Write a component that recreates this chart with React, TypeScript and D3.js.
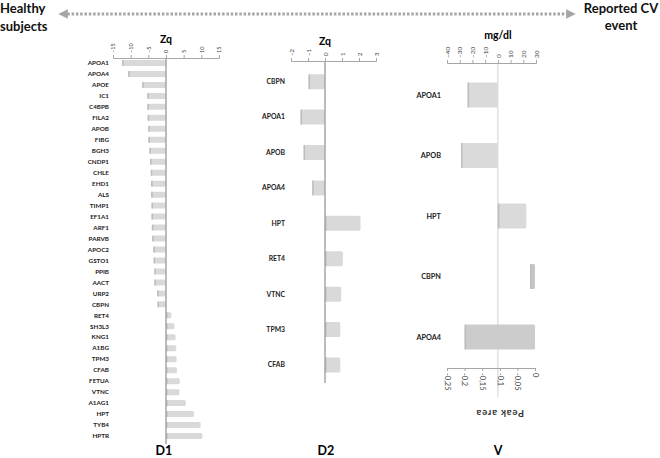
import React, { useEffect, useRef } from "react";
import * as d3 from "d3";

// D1 panel - Zq values per protein
const d1Proteins = [
  "APOA1", "APOA4", "APOE", "IC1", "C4BPB", "FILA2", "APOB", "FIBG", "BGH3",
  "CNDP1", "CHLE", "EHD1", "ALS", "TIMP1", "EF1A1", "ARF1", "PARVB", "APOC2",
  "GSTO1", "PPIB", "AACT", "URP2", "CBPN", "RET4", "SH3L3", "KNG1", "A1BG",
  "TPM3", "CFAB", "FETUA", "VTNC", "A1AG1", "HPT", "TYB4", "HPTR",
];
const d1Values = [
  -12.4, -10.7, -6.7, -5.3, -5.3, -5.2, -5.0, -5.0, -4.7,
  -4.5, -4.3, -4.2, -4.2, -4.1, -4.1, -4.0, -3.9, -3.6,
  -3.5, -3.3, -3.3, -2.5, -2.4, 1.5, 2.4, 2.7, 2.9,
  3.0, 3.1, 3.9, 3.8, 5.6, 7.9, 9.8, 10.3,
];
const d1Ticks = [-15, -10, -5, 0, 5, 10, 15];

// D2 panel
const d2Proteins = ["CBPN", "APOA1", "APOB", "APOA4", "HPT", "RET4", "VTNC", "TPM3", "CFAB"];
const d2Values = [-0.97, -1.44, -1.26, -0.75, 2.09, 1.05, 0.95, 0.9, 0.9];
const d2Ticks = [-2, -1, 0, 1, 2, 3];

// V panel - first three in mg/dl, last two in peak area
const vProteins = ["APOA1", "APOB", "HPT", "CBPN", "APOA4"];
const vValues = [-23.8, -29, 22.4, -0.014, -0.2];
const vUnits = ["mgdl", "mgdl", "mgdl", "peak", "peak"];
const vTopTicks = [-40, -30, -20, -10, 0, 10, 20, 30];
const vBottomTicks = [-0.25, -0.2, -0.15, -0.1, -0.05, 0];
const vBottomLabels = ["-0,25", "-0,2", "-0,15", "-0,1", "-0,05", "0"];

const font = "Lato, 'Open Sans', sans-serif";

const App = () => {
  const svgRef = useRef<SVGSVGElement>(null);

  useEffect(() => {
    const svg = d3.select(svgRef.current);
    svg.selectAll("*").remove();
    svg.style("font-family", font);

    // header arrow
    const defs = svg.append("defs");
    ["start", "end"].forEach((k) => {
      defs
        .append("marker")
        .attr("id", "arr-" + k)
        .attr("viewBox", "0 0 10 10")
        .attr("refX", 5)
        .attr("refY", 5)
        .attr("markerWidth", 3.2)
        .attr("markerHeight", 3.2)
        .attr("orient", k === "start" ? "auto-start-reverse" : "auto")
        .append("path")
        .attr("d", "M0,0L10,5L0,10Z")
        .attr("fill", "#a6a6a6");
    });
    svg
      .append("line")
      .attr("x1", 63)
      .attr("x2", 571)
      .attr("y1", 14)
      .attr("y2", 14)
      .attr("stroke", "#a6a6a6")
      .attr("stroke-width", 3)
      .attr("stroke-dasharray", "2.5,1.8")
      .attr("marker-start", "url(#arr-start)")
      .attr("marker-end", "url(#arr-end)");

    const head = svg.append("g").attr("font-weight", "bold").attr("font-size", 13).attr("fill", "#111");
    head.append("text").attr("x", 0).attr("y", 13).text("Healthy");
    head.append("text").attr("x", 0).attr("y", 31).text("subjects");
    head.append("text").attr("x", 621).attr("y", 13).attr("text-anchor", "middle").text("Reported CV");
    head.append("text").attr("x", 621).attr("y", 30).attr("text-anchor", "middle").text("event");

    const axisColor = "#a6a6a6";

    const styleAxis = (g: any, angle: number, size: number) => {
      g.select(".domain").attr("stroke", axisColor);
      g.selectAll(".tick line").attr("stroke", axisColor);
      g.selectAll(".tick text")
        .attr("fill", "#444")
        .attr("font-size", size)
        .attr("font-family", font)
        .attr("text-anchor", "start")
        .attr("x", 5)
        .attr("y", 0)
        .attr("dy", "0.35em")
        .attr("transform", `rotate(${angle})`);
    };

    const drawBars = (
      g: any,
      names: string[],
      values: number[],
      x: any,
      y: any,
      h: number,
      labelX: number,
      labelSize: number,
      fills?: string[]
    ) => {
      names.forEach((n, i) => {
        const v = values[i];
        const x0 = Math.min(x(0), x(v));
        const w = Math.abs(x(v) - x(0));
        const cy = y(n);
        g.append("rect")
          .attr("x", x0)
          .attr("y", cy - h / 2)
          .attr("width", w)
          .attr("height", h)
          .attr("rx", 1.5)
          .attr("fill", fills ? fills[i] : "#d9d9d9");
        g.append("rect")
          .attr("x", x0)
          .attr("y", cy - h / 2)
          .attr("width", Math.min(1.5, w))
          .attr("height", h)
          .attr("fill", "#bdbdbd");
        g.append("text")
          .attr("x", labelX)
          .attr("y", cy)
          .attr("dy", "0.35em")
          .attr("text-anchor", "end")
          .attr("font-size", labelSize)
          .attr("font-weight", "bold")
          .attr("fill", "#222")
          .text(n);
      });
    };

    const title = (g: any, x: number, y: number, txt: string) =>
      g.append("text").attr("x", x).attr("y", y).attr("text-anchor", "middle")
        .attr("font-weight", "bold").attr("font-size", 10.5).text(txt);

    // ---- D1 ----
    const x1 = d3.scaleLinear().domain([-15, 15]).range([113, 219]);
    const y1 = d3.scalePoint().domain(d1Proteins).range([57.5, 441.5]).padding(0.5);
    const g1 = svg.append("g");
    g1.append("g")
      .attr("transform", "translate(0,58)")
      .call(d3.axisTop(x1).tickValues(d1Ticks).tickFormat(d3.format("d")).tickSize(3).tickSizeOuter(3))
      .call(styleAxis, -90, 5.5);
    drawBars(g1, d1Proteins, d1Values, x1, y1, 6, 109, 6.3);
    g1.append("line")
      .attr("x1", x1(0)).attr("x2", x1(0))
      .attr("y1", 58).attr("y2", 444)
      .attr("stroke", "#a6a6a6").attr("stroke-width", 1.5);
    title(g1, x1(0), 43, "Zq");

    // ---- D2 ----
    const x2 = d3.scaleLinear().domain([-2, 3]).range([291, 376]);
    const y2 = d3.scalePoint().domain(d2Proteins).range([64, 382.7]).padding(0.5);
    const g2 = svg.append("g");
    g2.append("g")
      .attr("transform", "translate(0,61)")
      .call(d3.axisTop(x2).tickValues(d2Ticks).tickFormat(d3.format("d")).tickSize(3).tickSizeOuter(3))
      .call(styleAxis, -90, 6);
    drawBars(g2, d2Proteins, d2Values, x2, y2, 15, 285, 6.8);
    g2.append("line")
      .attr("x1", x2(0)).attr("x2", x2(0))
      .attr("y1", 61).attr("y2", 383)
      .attr("stroke", "#a6a6a6").attr("stroke-width", 1.5);
    title(g2, x2(0), 45, "Zq");

    // ---- V ----
    const xTop = d3.scaleLinear().domain([-40, 30]).range([447, 536]);
    const xBot = d3.scaleLinear().domain([-0.25, 0]).range([447, 535]);
    const y3 = d3.scalePoint().domain(vProteins).range([64.75, 367.25]).padding(0.5);
    const g3 = svg.append("g");
    g3.append("line")
      .attr("x1", xTop(0)).attr("x2", xTop(0))
      .attr("y1", 63).attr("y2", 397)
      .attr("stroke", "#d9d9d9").attr("stroke-width", 1.2);
    g3.append("g")
      .attr("transform", "translate(0,63)")
      .call(d3.axisTop(xTop).tickValues(vTopTicks).tickFormat(d3.format("d")).tickSize(3).tickSizeOuter(3))
      .call(styleAxis, -90, 6.5);
    g3.append("g")
      .attr("transform", "translate(0,368)")
      .call(
        d3.axisBottom(xBot)
          .tickValues(vBottomTicks)
          .tickFormat((d: any, i: number) => vBottomLabels[i])
          .tickSize(3)
          .tickSizeOuter(3)
      )
      .call(styleAxis, 90, 7.5);

    const vFills = ["#dadada", "#dadada", "#dadada", "#c6c6c6", "#cccccc"];
    vProteins.forEach((n, i) => {
      const sc = vUnits[i] === "mgdl" ? xTop : xBot;
      drawBars(g3, [n], [vValues[i]], sc, y3, 25, 441, 7.3, [vFills[i]]);
    });

    title(g3, xTop(0), 39, "mg/dl");
    g3.append("text")
      .attr("transform", `translate(${xBot(-0.1)},413) rotate(180)`)
      .attr("text-anchor", "middle")
      .attr("dy", "0.35em")
      .attr("font-weight", "bold")
      .attr("font-size", 9.5)
      .attr("letter-spacing", 0.8)
      .attr("fill", "#333")
      .text("Peak area");

    // panel names
    const foot = svg.append("g").attr("font-weight", "bold").attr("font-size", 12.5).attr("text-anchor", "middle");
    foot.append("text").attr("x", 164).attr("y", 455).text("D1");
    foot.append("text").attr("x", 326).attr("y", 455).text("D2");
    foot.append("text").attr("x", 498).attr("y", 455).text("V");
  }, []);

  return (
    <svg
      ref={svgRef}
      width={660}
      height={458}
      style={{ position: "absolute", left: 0, top: 0, background: "#fff" }}
    ></svg>
  );
};

export default App;
